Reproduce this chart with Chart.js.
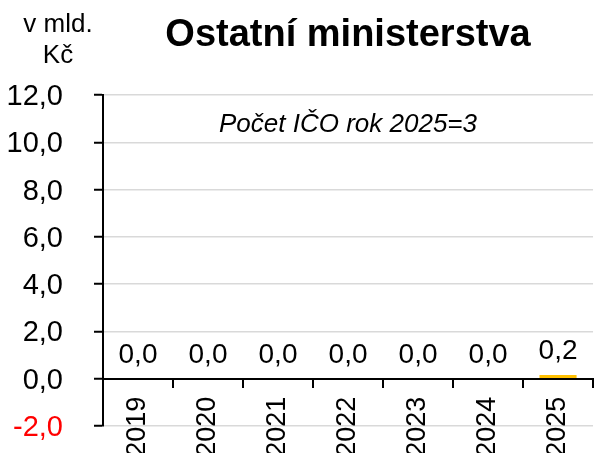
<!DOCTYPE html>
<html><head><meta charset="utf-8">
<script src="https://cdn.jsdelivr.net/npm/chart.js@4.4.1/dist/chart.umd.min.js"></script>
<style>html,body{margin:0;padding:0;background:#fff}canvas{display:block}</style>
</head><body>
<canvas id="c" width="601" height="453"></canvas>
<script>
const categories = ['2019','2020','2021','2022','2023','2024','2025'];
const values = [0, 0, 0, 0, 0, 0, 0.16];
const yTicks = [-2, 0, 2, 4, 6, 8, 10, 12];
const titleText = 'Ostatní ministerstva';
const unitLines = ['v mld.', 'Kč'];
const noteText = 'Počet IČO rok 2025=3';

const FONT = "'Liberation Sans', Arial, sans-serif";
const fmt = v => v.toFixed(1).replace('.', ',');

const extras = {
  id: 'extras',
  afterDatasetsDraw(chart) {
    const ctx = chart.ctx;
    const meta = chart.getDatasetMeta(0);
    ctx.save();
    ctx.font = '28px ' + FONT;
    ctx.fillStyle = '#000';
    ctx.textAlign = 'center';
    ctx.textBaseline = 'alphabetic';
    meta.data.forEach((bar, i) => {
      ctx.fillText(fmt(values[i]), bar.x, bar.y - 16);
    });
    ctx.restore();
  },
  afterDraw(chart) {
    const ctx = chart.ctx;
    const ca = chart.chartArea;
    ctx.save();
    ctx.fillStyle = '#000';
    ctx.textAlign = 'center';
    ctx.textBaseline = 'alphabetic';
    ctx.font = '26px ' + FONT;
    ctx.fillText(unitLines[0], 58, 32);
    ctx.fillText(unitLines[1], 58, 63);
    ctx.font = 'italic 26px ' + FONT;
    ctx.fillText(noteText, (ca.left + ca.right) / 2, ca.top + 37);
    ctx.restore();
  }
};

new Chart(document.getElementById('c'), {
  type: 'bar',
  data: {
    labels: categories,
    datasets: [{
      data: values,
      backgroundColor: '#FFC000',
      borderWidth: 0,
      barPercentage: 0.53,
      categoryPercentage: 1
    }]
  },
  options: {
    responsive: false,
    animation: false,
    events: [],
    layout: { padding: { top: 0, left: 0, right: 0, bottom: 27 } },
    plugins: {
      legend: { display: false },
      tooltip: { enabled: false },
      title: {
        display: true,
        text: titleText,
        fullSize: false,
        color: '#000',
        font: { family: FONT, size: 38, weight: 'bold' },
        padding: { top: 12.7, bottom: 36.7 }
      }
    },
    scales: {
      x: {
        type: 'category',
        position: { y: 0 },
        offset: true,
        grid: {
          display: true,
          offset: true,
          drawOnChartArea: false,
          drawTicks: true,
          tickLength: 8,
          tickColor: '#000',
          tickWidth: 2,
          color: '#000',
          lineWidth: 2
        },
        border: { display: true, color: '#000', width: 2 },
        ticks: {
          autoSkip: false,
          minRotation: 90,
          maxRotation: 90,
          padding: 10,
          color: '#000',
          font: { family: FONT, size: 27 }
        }
      },
      y: {
        min: -2,
        max: 12,
        afterBuildTicks: s => { s.ticks = yTicks.map(v => ({ value: v })); },
        afterFit: s => { s.width = 103; s.paddingTop = 0; s.paddingBottom = 0; },
        grid: {
          color: c => (c.tick && c.tick.value === 0) ? 'rgba(0,0,0,0)' : '#d9d9d9',
          lineWidth: 1.5,
          tickLength: 9,
          tickColor: '#000',
          tickWidth: 2
        },
        border: { display: true, color: '#000', width: 2 },
        ticks: {
          padding: 31,
          labelOffset: 2,
          color: c => c.tick.value === -2 ? '#FF0000' : '#000',
          font: { family: FONT, size: 29 },
          callback: v => fmt(v)
        }
      }
    }
  },
  plugins: [extras]
});
</script>
</body></html>
